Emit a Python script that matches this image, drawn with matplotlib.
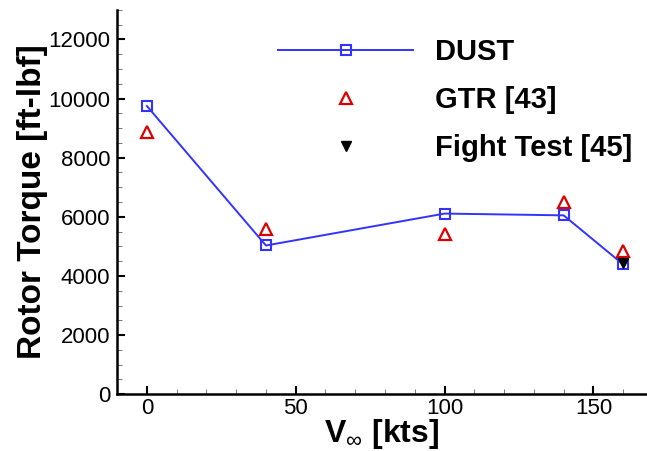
import numpy as np
import matplotlib
matplotlib.use("Agg")
from matplotlib import pyplot as plt
from matplotlib.ticker import MultipleLocator

plt.rcParams['font.family'] = ['Liberation Sans', 'DejaVu Sans']
plt.rcParams['mathtext.fontset'] = 'custom'
plt.rcParams['mathtext.rm'] = 'Liberation Sans'
plt.rcParams['mathtext.bf'] = 'Liberation Sans:bold'

# data
dust_v = [0, 40, 100, 140, 160]
dust_q = [9750, 5030, 6110, 6050, 4390]

gtr_v = [0, 40, 100, 140, 160]
gtr_q = [8880, 5600, 5430, 6500, 4830]

flight_v = [160]
flight_q = [4430]

fig = plt.figure(figsize=(6.47, 4.51), dpi=100)
ax = fig.add_axes([0.181, 0.126, 0.819, 0.852])

ax.plot(dust_v, dust_q, color='#3333ff', lw=1.4, marker='s', ms=7,
        mfc='none', mec='#3333ff', mew=1.5, label='DUST')
ax.plot(gtr_v, gtr_q, ls='none', marker='^', ms=8, mfc='none',
        mec='#dd0000', mew=1.6, label='GTR [43]')
ax.plot(flight_v, flight_q, ls='none', marker='v', ms=7, color='black',
        label='Fight Test [45]')

ax.set_xlim(-10, 168)
ax.set_ylim(0, 13000)
ax.xaxis.set_major_locator(MultipleLocator(50))
ax.xaxis.set_minor_locator(MultipleLocator(10))
ax.yaxis.set_major_locator(MultipleLocator(2000))
ax.yaxis.set_minor_locator(MultipleLocator(500))

ax.tick_params(which='both', direction='in', labelsize=16)
ax.tick_params(which='major', length=6, width=1.5)
ax.tick_params(which='minor', length=3.5, width=0.7, color='#777777')
ax.tick_params(axis='y', pad=5)
ax.tick_params(axis='x', pad=3)

# only left and bottom axis lines
ax.spines['top'].set_visible(False)
ax.spines['right'].set_visible(False)
ax.spines['left'].set_linewidth(1.8)
ax.spines['bottom'].set_linewidth(1.8)

ax.set_xlabel(r'$\mathbf{V}_{\infty}$ [kts]', fontsize=23, fontweight='bold', labelpad=-2)
ax.set_ylabel('Rotor Torque [ft-lbf]', fontsize=24, fontweight='bold', labelpad=0)

leg = ax.legend(loc='upper left', bbox_to_anchor=(0.255, 0.995), frameon=False,
                prop={'weight': 'bold', 'size': 21},
                handlelength=4.6, handletextpad=0.75, labelspacing=0.68,
                numpoints=1)

fig.savefig('out.png', dpi=100)
